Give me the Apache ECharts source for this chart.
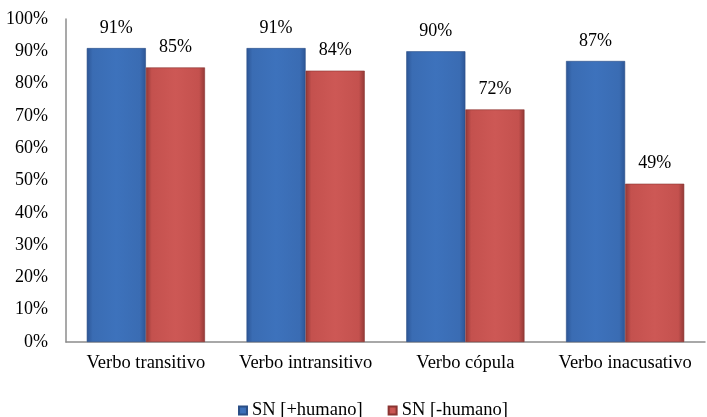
<!DOCTYPE html>
<html>
<head>
<meta charset="utf-8">
<script src="https://cdn.jsdelivr.net/npm/echarts@6/dist/echarts.min.js"></script>
<style>
  html, body { margin: 0; padding: 0; background: #fff; }
  #chart { width: 707px; height: 417px; }
</style>
</head>
<body>
<div id="chart"></div>
<script>
// Verb types and the share of each noun-phrase type
const categories = ['Verbo transitivo', 'Verbo intransitivo', 'Verbo cópula', 'Verbo inacusativo'];
const humanoPos = [91, 91, 90, 87];
const humanoNeg = [85, 84, 72, 49];
const seriesNames = ['SN [+humano]', 'SN [-humano]'];

const FONT = '"Liberation Serif", "Times New Roman", serif';
const FS = 18;

// Bevelled look: darker edges, lighter middle
function bevel(dark, mid, light) {
  return new echarts.graphic.LinearGradient(0, 0, 1, 0, [
    { offset: 0, color: dark },
    { offset: 0.1, color: mid },
    { offset: 0.5, color: light },
    { offset: 0.9, color: mid },
    { offset: 1, color: dark }
  ]);
}

const blueFill = bevel('#2c5595', '#3a6cb3', '#3d72bc');
const redFill = bevel('#923836', '#c4514e', '#cd5855');

const chart = echarts.init(document.getElementById('chart'));

function barSeries(name, data, fill, edge) {
  return {
    name: name,
    type: 'bar',
    data: data,
    barGap: '0%',
    barCategoryGap: '26%',
    itemStyle: { color: fill, borderColor: edge, borderWidth: 0.6 },
    label: {
      show: true,
      position: 'top',
      distance: 11,
      formatter: p => p.value + '%',
      fontFamily: FONT,
      fontSize: FS,
      color: '#000'
    }
  };
}

chart.setOption({
  animation: false,
  grid: { left: 66, right: 2, top: 19, bottom: 75 },
  legend: {
    top: 396,
    left: 233,
    itemWidth: 8,
    itemHeight: 8,
    itemGap: 25,
    icon: 'rect',
    textStyle: { fontFamily: FONT, fontSize: 18.5, color: '#000' },
    data: seriesNames
  },
  xAxis: {
    type: 'category',
    data: categories,
    axisLine: { lineStyle: { color: '#8c8c8c', width: 1.5 } },
    axisTick: { show: false },
    axisLabel: { interval: 0, fontFamily: FONT, fontSize: 18.5, color: '#000', margin: 12 }
  },
  yAxis: {
    type: 'value',
    min: 0,
    max: 100,
    interval: 10,
    splitLine: { show: false },
    axisLine: { show: true, lineStyle: { color: '#8c8c8c', width: 1.5 } },
    axisTick: { show: false },
    axisLabel: {
      formatter: v => v + '%',
      fontFamily: FONT,
      fontSize: FS,
      color: '#000',
      margin: 18
    }
  },
  series: [
    barSeries(seriesNames[0], humanoPos, blueFill, '#2b4f86'),
    barSeries(seriesNames[1], humanoNeg, redFill, '#8a3431')
  ],
  color: ['#3a6cb3', '#c4514e']
});
</script>
</body>
</html>
